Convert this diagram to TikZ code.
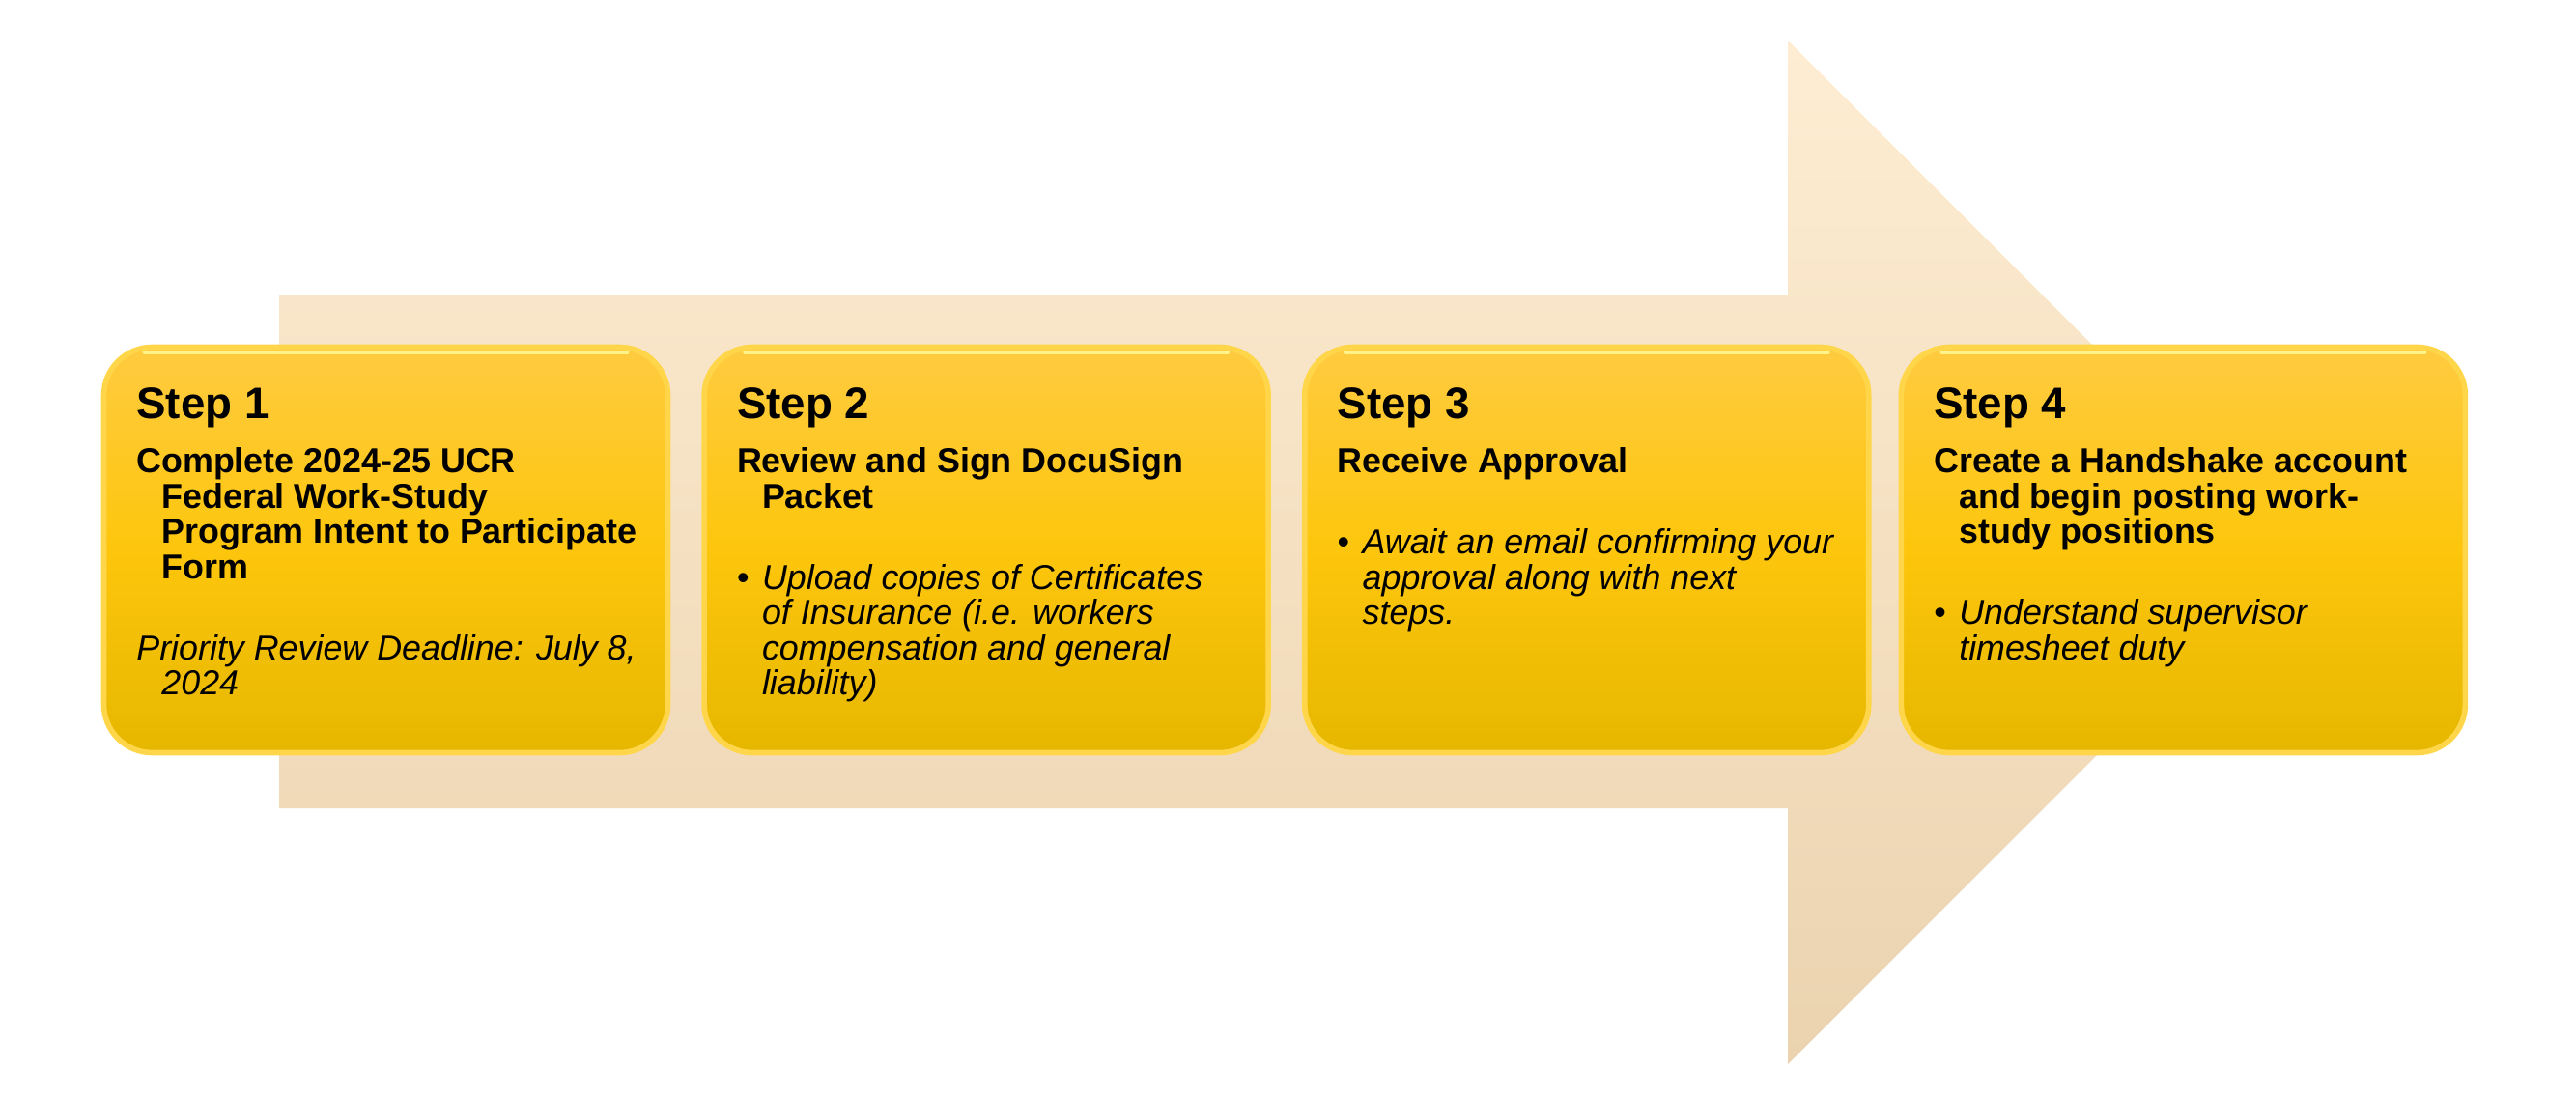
\documentclass[tikz,border=0pt]{standalone}
\usepackage{fontspec}
\setmainfont{Liberation Sans}
\usepackage{xcolor}
\definecolor{arrtop}{HTML}{FEEDD3}
\definecolor{arrbot}{HTML}{EBD3AF}
\definecolor{boxtop}{HTML}{FFCB40}
\definecolor{boxmid}{HTML}{FDC60C}
\definecolor{boxbot}{HTML}{E6B700}
\definecolor{boxedge}{HTML}{FFD64A}
\definecolor{glow}{HTML}{FFF38A}
\usepackage{tikz}
\usetikzlibrary{positioning,calc}
\newcommand{\stepfont}{\fontsize{13}{15.6}\selectfont\bfseries}
\newcommand{\bodyfont}{\fontsize{10.2}{10.4}\selectfont}
\newcommand{\hangit}{\hangindent=0.26cm\hangafter=1 }
\newcommand{\stepbul}{\makebox[0.26cm][l]{\textbullet}}
\tikzset{
  stepbox/.style={draw=boxedge,line width=1.6pt,rounded corners=0.5cm,minimum width=5.84cm,minimum height=4.2cm,top color=boxtop,bottom color=boxbot,middle color=boxmid},
  txt/.style={anchor=base west,inner sep=0pt,font=\bodyfont},
  hilite/.style={draw=glow,line width=1.2pt,line cap=round},
}

\begin{document}
\begin{tikzpicture}[node distance=0.32cm]
\useasboundingbox (0,0) rectangle (26.67,11.33);
% big arrow behind the steps
\shade[top color=arrtop,bottom color=arrbot] (2.89,8.27) -- (18.51,8.27) -- (18.51,10.91) -- (23.81,5.61) -- (18.51,0.31) -- (18.51,2.96) -- (2.89,2.96) -- cycle;
\node[stepbox] (s1) at (3.995,5.635) {};
\node[stepbox,right=of s1] (s2) {};
\node[stepbox,right=of s2] (s3) {};
\node[stepbox,right=0.28cm of s3] (s4) {};
\foreach \s in {s1,s2,s3,s4} \draw[hilite] ($(\s.north west)+(0.45,-0.08)$) -- ($(\s.north east)+(-0.45,-0.08)$);
\node[txt] (t1) at ($(s1.north west)+(0.36,-0.77)$) {\parbox[t]{5.4cm}{\raggedright
  {\stepfont Step 1\par}\vspace{5.5pt}
  {\bfseries\hangit Complete 2024-25 UCR\newline Federal Work-Study\newline Program Intent to Participate\newline Form\par}\vspace{13.5pt}
  {\itshape\hangit Priority Review Deadline: July 8,\newline 2024\par}}};
\node[txt] (t2) at ($(s2.north west)+(0.36,-0.77)$) {\parbox[t]{5.4cm}{\raggedright
  {\stepfont Step 2\par}\vspace{5.5pt}
  {\bfseries\hangit Review and Sign DocuSign\newline Packet\par}\vspace{13.5pt}
  {\hangit\stepbul\itshape Upload copies of Certificates\newline of Insurance (i.e. workers\newline compensation and general\newline liability)\par}}};
\node[txt] (t3) at ($(s3.north west)+(0.36,-0.77)$) {\parbox[t]{5.4cm}{\raggedright
  {\stepfont Step 3\par}\vspace{5.5pt}
  {\bfseries\hangit Receive Approval\par}\vspace{13.5pt}
  {\hangit\stepbul\itshape Await an email confirming your\newline approval along with next\newline steps.\par}}};
\node[txt] (t4) at ($(s4.north west)+(0.36,-0.77)$) {\parbox[t]{5.4cm}{\raggedright
  {\stepfont Step 4\par}\vspace{5.5pt}
  {\bfseries\hangit Create a Handshake account\newline and begin posting work-\newline study positions\par}\vspace{13.5pt}
  {\hangit\stepbul\itshape Understand supervisor\newline timesheet duty\par}}};
\end{tikzpicture}
\end{document}
